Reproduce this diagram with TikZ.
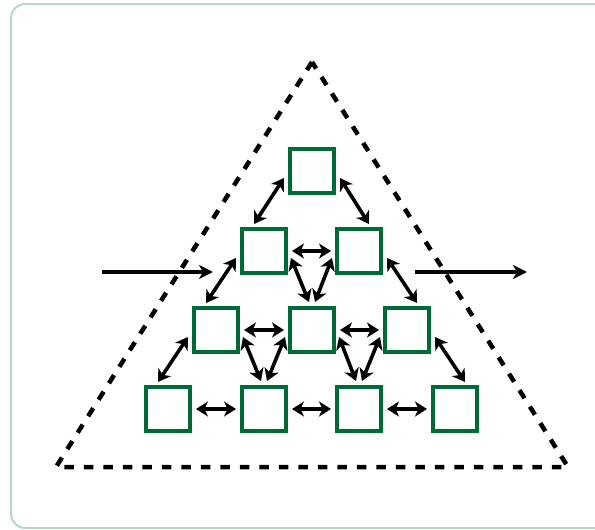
\documentclass[tikz,border=0pt]{standalone}
\usetikzlibrary{arrows.meta}
\definecolor{boxgreen}{HTML}{006A35}
\definecolor{framegreen}{HTML}{B8D8C3}
\tikzset{
  sq/.style={draw=boxgreen, line width=4pt, minimum size=44pt, inner sep=0pt, fill=white},
  dbl/.style={line width=3.6pt, {Stealth[length=12pt,width=15pt,inset=3.5pt]}-{Stealth[length=12pt,width=15pt,inset=3.5pt]}},
  io/.style={line width=4pt, -{Stealth[length=14pt,width=14pt,inset=4pt]}},
  tri/.style={line width=4.5pt, dash pattern=on 9.5pt off 10pt, line join=miter}
}
\begin{document}
\begin{tikzpicture}[x=1pt,y=-1pt]
\useasboundingbox (0,0) rectangle (595,530);
\begin{scope}
\clip (0,0) rectangle (595,530);
\draw[framegreen, line width=2pt, rounded corners=14pt] (11,4) rectangle (640,528);
\end{scope}
% triangle
\coordinate (tA) at (312,62);
\coordinate (tB) at (56,467);
\coordinate (tC) at (568,467);
\draw[tri] (tA) -- (tB) -- (tC) -- cycle;
% squares
\node[sq] (r1) at (312,171) {};
\node[sq] (r2a) at (264,251) {};
\node[sq] (r2b) at (359,251) {};
\node[sq] (r3a) at (216,330) {};
\node[sq] (r3b) at (312,330) {};
\node[sq] (r3c) at (407,330) {};
\node[sq] (r4a) at (168,409) {};
\node[sq] (r4b) at (264,409) {};
\node[sq] (r4c) at (359,409) {};
\node[sq] (r4d) at (455,409) {};
% horizontal arrows
\foreach \a/\b in {r2a/r2b, r3a/r3b, r3b/r3c, r4a/r4b, r4b/r4c, r4c/r4d}
  \draw[dbl] ([xshift=4pt]\a.east) -- ([xshift=-4pt]\b.west);
% outer diagonal arrows (left side)
\foreach \u/\l in {r1/r2a, r2a/r3a, r3a/r4a}
  \draw[dbl] ([xshift=-4pt,yshift=-7pt]\u.west) -- ([xshift=-10pt,yshift=3pt]\l.north);
% outer diagonal arrows (right side)
\foreach \u/\l in {r1/r2b, r2b/r3c, r3c/r4d}
  \draw[dbl] ([xshift=4pt,yshift=-7pt]\u.east) -- ([xshift=10pt,yshift=3pt]\l.north);
% inner arrows going down-right
\foreach \u/\l in {r2a/r3b, r3a/r4b, r3b/r4c}
  \draw[dbl] ([xshift=3pt,yshift=-7pt]\u.east) -- ([xshift=-3pt,yshift=4pt]\l.north);
% inner arrows going down-left
\foreach \u/\l in {r2b/r3b, r3b/r4b, r3c/r4c}
  \draw[dbl] ([xshift=-3pt,yshift=-7pt]\u.west) -- ([xshift=3pt,yshift=4pt]\l.north);
% input / output
\coordinate (in1) at (102,272);
\coordinate (in2) at (213,272);
\coordinate (out1) at (415,272);
\coordinate (out2) at (527,272);
\draw[io] (in1) -- (in2);
\draw[io] (out1) -- (out2);
\end{tikzpicture}
\end{document}
